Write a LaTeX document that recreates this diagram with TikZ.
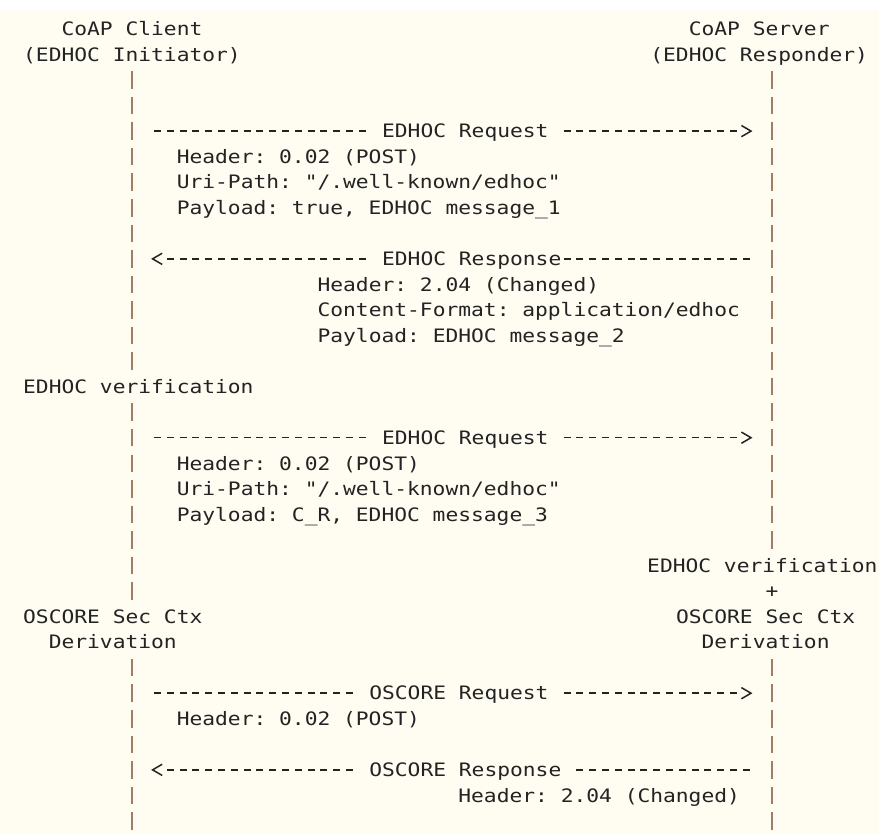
\documentclass[tikz,border=0pt]{standalone}
\usepackage{fontspec}
\usepackage{xcolor}
\usepackage{tikz}
\usetikzlibrary{positioning}

\newfontfamily\asciifont[FakeStretch=1.149,Ligatures=TeXOff]{DejaVu Sans Mono}
\newcommand{\cellsp}{\hphantom{x}}
\frenchspacing

\definecolor{pagecream}{RGB}{255,252,242}
\definecolor{inkgray}{RGB}{35,35,35}
\definecolor{lifebrown}{RGB}{160,125,100}

\tikzset{
  rhead/.pic={\draw[headline] (-4.8pt,5.6pt) -- (4.8pt,0pt) -- (-4.8pt,-5.6pt);},
  lhead/.pic={\draw[headline] (4.8pt,5.6pt) -- (-4.8pt,0pt) -- (4.8pt,-5.6pt);}
}

\begin{document}
\frenchspacing
\begin{tikzpicture}[x=12.8pt, y=-25.55pt,
    txt/.style={font=\asciifont\fontsize{18.5pt}{22pt}\selectfont\frenchspacing, text=inkgray,
      inner sep=0pt, anchor=base west, xshift=-6.4pt, yshift=-6.75pt},
    msglabel/.style={txt, fill=pagecream},
    lifeline/.style={draw=lifebrown, line width=1.4pt, dash pattern=on 17.5pt off 8.05pt,
      shorten <=-8.75pt, shorten >=-8.75pt},
    msg/.style={draw=inkgray, line width=1.5pt, dash pattern=on 7pt off 5.8pt,
      dash phase=9.9pt, shorten <=19.2pt, shorten >=32pt},
    headline/.style={draw=inkgray, line width=1.5pt, line join=miter}]

    % Page
    \fill[white] (-2.297,-0.1311) rectangle (66.375,32.511);
    \fill[pagecream] (-2.297,0.2603) rectangle (66.375,32.511);
    \useasboundingbox (-2.297,-0.1311) rectangle (66.375,32.511);

    % Lifeline points
    \foreach \r in {3,5,10,14,16,17,21,23,26,27,30,32} {
      \coordinate (ini-\r) at (8,\r);
      \coordinate (res-\r) at (58,\r);
    }

    % Nodes
    \node [txt] (client1) at (3,1) {CoAP Client};
    \node [txt] (client2) at (0,2) {(EDHOC Initiator)};
    \node [txt] (server1) at (52,1) {CoAP Server};
    \node [txt] (server2) at (49,2) {(EDHOC Responder)};

    \node [txt] (hdr1) at (12,6) {Header: 0.02 (POST)};
    \node [txt] (uri1) at (12,7) {Uri-Path: "/.well-known/edhoc"};
    \node [txt] (pay1) at (12,8) {Payload: true, EDHOC message\_1};

    \node [txt] (hdr2) at (23,11) {Header: 2.04 (Changed)};
    \node [txt] (fmt2) at (23,12) {Content-Format: application/edhoc};
    \node [txt] (pay2) at (23,13) {Payload: EDHOC message\_2};

    \node [txt] (verifC) at (0,15) {EDHOC verification};

    \node [txt] (hdr3) at (12,18) {Header: 0.02 (POST)};
    \node [txt] (uri3) at (12,19) {Uri-Path: "/.well-known/edhoc"};
    \node [txt] (pay3) at (12,20) {Payload: C\_R, EDHOC message\_3};

    \node [txt] (verifS) at (48.75,22) {EDHOC verification};
    \node [txt] (plusS) at (58,23) {+};
    \node [txt] (secC) at (0,24) {OSCORE Sec Ctx};
    \node [txt] (derC) at (2,25) {Derivation};
    \node [txt] (secS) at (51,24) {OSCORE Sec Ctx};
    \node [txt] (derS) at (53,25) {Derivation};

    \node [txt] (hdr4) at (12,28) {Header: 0.02 (POST)};
    \node [txt] (hdr5) at (34,31) {Header: 2.04 (Changed)};

    % Lifelines
    \draw [lifeline] (ini-3) -- (ini-14);
    \draw [lifeline] (ini-16) -- (ini-23);
    \draw [lifeline] (ini-26) -- (ini-32);
    \draw [lifeline] (res-3) -- (res-21);
    \draw [lifeline] (res-26) -- (res-32);

    % Arrows
    \draw [msg] (ini-5) -- (res-5)
      node [msglabel] (req1) at (27,5) {\cellsp EDHOC Request\cellsp};
    \pic at (56,5) {rhead};
    \draw [msg] (res-10) -- (ini-10)
      node [msglabel] (resp1) at (27,10) {\cellsp EDHOC Response};
    \pic at (10,10) {lhead};
    \draw [msg] (ini-17) -- (res-17)
      node [msglabel] (req2) at (27,17) {\cellsp EDHOC Request\cellsp};
    \pic at (56,17) {rhead};
    \draw [msg] (ini-27) -- (res-27)
      node [msglabel] (req3) at (26,27) {\cellsp OSCORE Request\cellsp};
    \pic at (56,27) {rhead};
    \draw [msg] (res-30) -- (ini-30)
      node [msglabel] (resp2) at (26,30) {\cellsp OSCORE Response\cellsp};
    \pic at (10,30) {lhead};
\end{tikzpicture}
\end{document}
